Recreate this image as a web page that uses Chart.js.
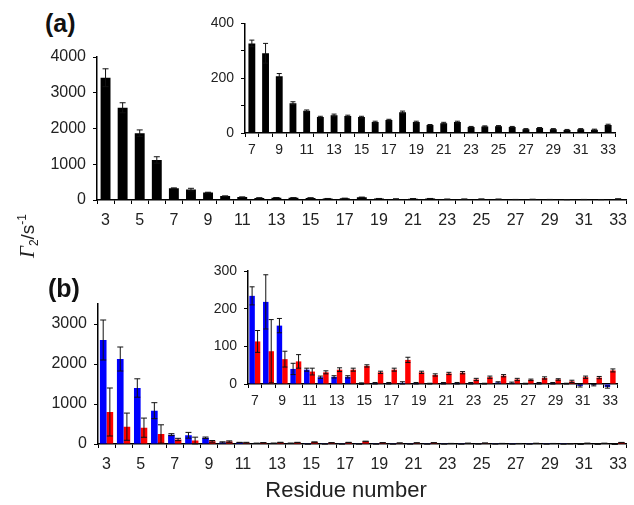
<!DOCTYPE html>
<html>
<head>
<meta charset="utf-8">
<script src="https://cdn.jsdelivr.net/npm/chart.js@4/dist/chart.umd.min.js"></script>
<style>
  body { margin: 0; background: #fff; }
  #wrap { position: relative; width: 634px; height: 505px; overflow: hidden;
          font-family: "Liberation Sans", Arial, sans-serif; color: #222; }
  canvas { position: absolute; }
  .panel { position: absolute; font-weight: bold; font-size: 25px; color: #111; }
  #ytitle { position: absolute; left: 28px; top: 236px; font-size: 19px; white-space: nowrap;
            transform: translate(-50%, -50%) rotate(-90deg); }
  #ytitle i { font-family: "Liberation Serif", serif; font-size: 21px; }
  #ytitle sub, #ytitle sup { font-size: 12px; }
  #xtitle { position: absolute; left: 346px; top: 490px; font-size: 22px; white-space: nowrap;
            transform: translate(-50%, -50%); }
</style>
</head>
<body>
<div id="wrap">
  <canvas id="mainA" width="634" height="200" style="left:0;top:40px"></canvas>
  <canvas id="insetA" width="450" height="155" style="left:180px;top:8px"></canvas>
  <canvas id="mainB" width="634" height="195" style="left:0;top:285px"></canvas>
  <canvas id="insetB" width="452" height="155" style="left:180px;top:255px"></canvas>
  <div class="panel" style="left:45px;top:9px">(a)</div>
  <div class="panel" style="left:48px;top:274px">(b)</div>
  <div id="ytitle"><i>Γ</i><sub>2</sub>/s<sup>-1</sup></div>
  <div id="xtitle">Residue number</div>
</div>
<script>
// residue numbers on the x axis
const residues = [3, 4, 5, 6, 7, 8, 9, 10, 11, 12, 13, 14, 15, 16, 17, 18, 19, 20, 21, 22, 23, 24, 25, 26, 27, 28, 29, 30, 31, 32, 33];

// panel (a)
const gammaA = [3420, 2580, 1870, 1120, 327, 291, 207, 109, 81, 58, 65, 62, 58, 40, 47, 76, 40, 29, 36, 40, 22, 24, 25, 22, 14, 18, 14, 11, 14, 12, 29];
const errA   = [250, 140, 90, 90, 12, 36, 10, 5, 3, 3, 4, 3, 3, 3, 3, 4, 3, 2, 3, 3, 2, 2, 2, 2, 2, 2, 2, 2, 2, 2, 3];

// panel (b), blue and red series
const gammaBlue = [2600, 2125, 1400, 833, 234, 218, 155, 40, 38, 18, 19, 19, 1, 2, 2, 3, 2, 1, 2, 2, 2, 1, 4, 3, 1, 2, 2, 1, -5, -3, -8];
const errBlue   = [500, 300, 230, 200, 24, 72, 19, 15, 4, 3, 3, 3, 2, 2, 2, 3, 2, 1, 2, 2, 2, 1, 2, 2, 1, 2, 2, 1, 3, 2, 3];
const gammaRed  = [800, 433, 408, 250, 113, 87, 66, 60, 33, 31, 38, 38, 48, 31, 38, 64, 31, 24, 28, 30, 12, 18, 22, 12, 11, 16, 12, 7, 18, 17, 36];
const errRed    = [600, 340, 240, 230, 29, 84, 21, 18, 9, 4, 5, 4, 3, 3, 4, 7, 3, 3, 3, 3, 3, 3, 3, 3, 2, 3, 2, 3, 3, 3, 4];

// insets start at residue 7
const insetStart = residues.indexOf(7);

const FONT = '"Liberation Sans", Arial, sans-serif';

// draws symmetric error bars with caps from dataset.errors
const errorBars = {
  id: 'errorBars',
  afterDatasetsDraw(chart, args, opts) {
    const ctx = chart.ctx;
    const y = chart.scales.y;
    const cap = opts.cap || 3;
    chart.data.datasets.forEach((ds, di) => {
      if (!ds.errors) return;
      const meta = chart.getDatasetMeta(di);
      ctx.save();
      ctx.strokeStyle = '#111';
      ctx.lineWidth = 1;
      meta.data.forEach((bar, i) => {
        const v = ds.data[i], e = ds.errors[i];
        if (!e) return;
        const top = y.getPixelForValue(v + e);
        const bot = y.getPixelForValue(v - e);
        ctx.beginPath();
        ctx.moveTo(bar.x, top); ctx.lineTo(bar.x, bot);
        ctx.moveTo(bar.x - cap, top); ctx.lineTo(bar.x + cap, top);
        ctx.moveTo(bar.x - cap, bot); ctx.lineTo(bar.x + cap, bot);
        ctx.stroke();
      });
      ctx.restore();
    });
  }
};

function xAxis(size, pad, h) {
  return {
    type: 'category',
    offset: true,
    grid: { offset: true, drawOnChartArea: false, tickLength: 4, color: '#000' },
    border: { color: '#000', width: 1.5 },
    ticks: {
      autoSkip: false, maxRotation: 0, padding: pad, color: '#222',
      font: { size: size, family: FONT },
      callback: function(v, i) { return i % 2 === 0 ? this.getLabelForValue(v) : ''; }
    },
    afterFit: s => { s.height = h; }
  };
}

function yAxis(max, step, labelStep, size, w) {
  return {
    min: 0, max: max,
    grid: { drawOnChartArea: false, tickLength: 4, color: '#000' },
    border: { color: '#000', width: 1.5 },
    ticks: {
      stepSize: step, padding: 7, color: '#222',
      font: { size: size, family: FONT },
      callback: v => v % labelStep === 0 ? v : ''
    },
    afterFit: s => { s.width = w; }
  };
}

function makeChart(id, labels, datasets, x, y, padding, cap) {
  new Chart(document.getElementById(id), {
    type: 'bar',
    data: { labels: labels, datasets: datasets },
    options: {
      responsive: false,
      animation: false,
      layout: { padding: padding },
      scales: { x: x, y: y },
      plugins: { legend: { display: false }, tooltip: { enabled: false }, errorBars: { cap: cap } }
    },
    plugins: [errorBars]
  });
}

const insetRes = residues.slice(insetStart);

// (a) main
makeChart('mainA', residues, [{
  data: gammaA, errors: errA, backgroundColor: '#000',
  barPercentage: 0.58, categoryPercentage: 1
}], xAxis(16, 7, 40), yAxis(4000, 500, 1000, 16, 97), { top: 17, left: 0, right: 0, bottom: 0 }, 3);

// (a) inset
makeChart('insetA', insetRes, [{
  data: gammaA.slice(insetStart), errors: errA.slice(insetStart), backgroundColor: '#000',
  barPercentage: 0.5, categoryPercentage: 1
}], xAxis(14, 5, 30), yAxis(400, 100, 200, 14, 65), { top: 15, left: 0, right: 15, bottom: 0 }, 2.5);

// (b) main
makeChart('mainB', residues, [
  { data: gammaBlue, errors: errBlue, backgroundColor: '#0000ff', barPercentage: 1, categoryPercentage: 0.78 },
  { data: gammaRed, errors: errRed, backgroundColor: '#ff0000', barPercentage: 1, categoryPercentage: 0.78 }
], xAxis(16, 7, 36), yAxis(3500, 500, 1000, 16, 98), { top: 19, left: 0, right: 0, bottom: 0 }, 3);

// (b) inset
makeChart('insetB', insetRes, [
  { data: gammaBlue.slice(insetStart), errors: errBlue.slice(insetStart), backgroundColor: '#0000ff',
    barPercentage: 1, categoryPercentage: 0.8, clip: false },
  { data: gammaRed.slice(insetStart), errors: errRed.slice(insetStart), backgroundColor: '#ff0000',
    barPercentage: 1, categoryPercentage: 0.8, clip: false }
], xAxis(14, 5, 26), yAxis(300, 50, 100, 14, 68), { top: 16, left: 0, right: 15, bottom: 0 }, 2.5);
</script>
</body>
</html>
